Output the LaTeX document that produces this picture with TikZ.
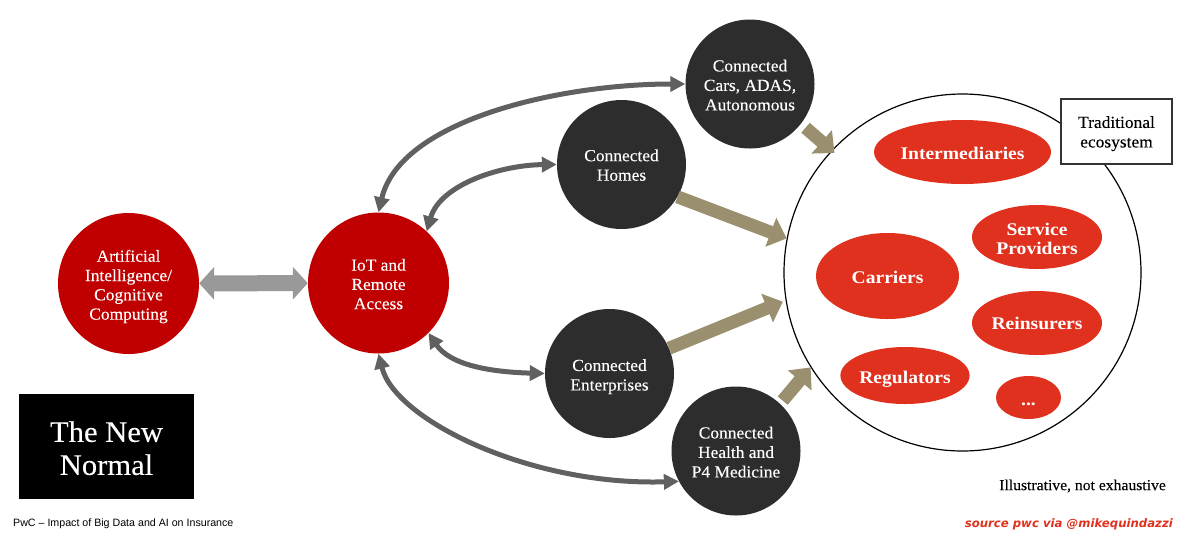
\documentclass[tikz,border=0pt]{standalone}
\usepackage{fontspec}
\setmainfont{Liberation Serif}[FakeStretch=1.03,FakeBold=0.12]
\newfontfamily\boldserif{Liberation Serif Bold}[FakeStretch=1.1]
\newfontfamily\footsans{Liberation Sans}
\newfontfamily\sourcesans{DejaVu Sans Bold Oblique}
\usetikzlibrary{arrows.meta,shapes.geometric}
\newcommand{\pad}[1]{\rule{0pt}{#1}}
\definecolor{pwcred}{HTML}{C00000}
\definecolor{darkdisc}{HTML}{2D2D2D}
\definecolor{ovalred}{HTML}{E0301E}
\definecolor{tanarrow}{HTML}{9A8F6E}
\definecolor{curvegray}{HTML}{606060}
\definecolor{widegray}{HTML}{999999}
\tikzset{
    bigdisc/.style={circle, fill=pwcred, text=white, minimum size=141pt, inner sep=0pt, align=center, font=\fontsize{16.9}{19.3}\selectfont},
    darkball/.style={circle, fill=darkdisc, text=white, minimum size=129pt, inner sep=0pt, align=center, font=\fontsize{16.9}{19.5}\selectfont},
    oval/.style={ellipse, fill=ovalred, text=white, inner sep=0pt, align=center, font=\boldserif\fontsize{17.8}{18.5}\selectfont},
    curvearrow/.style={<->, >={Triangle[length=15pt,width=15pt]}, line width=5pt, draw=curvegray},
    feedarrow/.style={->, >={Triangle[length=17pt,width=30pt]}, line width=13pt, draw=tanarrow},
    widearrow/.style={<->, >={Triangle[length=15pt,width=32pt]}, line width=16pt, draw=widegray},
}
\begin{document}
\begin{tikzpicture}[x=1pt, y=-1pt]
    \useasboundingbox (0, 0) rectangle (1200, 542);
    \node[circle, draw=black, line width=1.2pt, minimum size=357pt, inner sep=0pt] at(962.5, 272.5) (eco) {};
    \node[rectangle, draw=black!80, fill=white, line width=1.3pt, minimum width=111pt, minimum height=65pt, inner sep=0pt, align=center, font=\fontsize{16.9}{19.5}\selectfont] at(1116.5, 131.5) (trad) {\pad{16pt}Traditional\\ecosystem};

    \node[oval, minimum width=177pt, minimum height=64pt] at(962.5, 152) (inter) {\pad{16pt}Intermediaries};
    \node[oval, minimum width=130pt, minimum height=64pt] at(1037, 237) (service) {\pad{16pt}Service\\Providers};
    \node[oval, minimum width=143pt, minimum height=86pt] at(887.5, 276) (carriers) {\pad{16pt}Carriers};
    \node[oval, minimum width=130pt, minimum height=64pt] at(1037, 323) (reins) {\pad{14pt}Reinsurers};
    \node[oval, minimum width=128pt, minimum height=57pt] at(905, 375.5) (regul) {\pad{20pt}Regulators};
    \node[oval, minimum width=65pt, minimum height=43pt] at(1028.5, 397.5) (more) {\pad{16pt}...};

    \node[bigdisc] at(128.5, 283.5) (ai) {\pad{18pt}Artificial\\Intelligence/\\Cognitive\\Computing};
    \node[bigdisc] at(378.5, 283) (iot) {\pad{14pt}IoT and\\Remote\\Access};
    \node[darkball] at(750, 84) (cars) {\pad{14pt}Connected\\Cars, ADAS,\\Autonomous};
    \node[darkball] at(621.5, 164.5) (homes) {\pad{13pt}Connected\\Homes};
    \node[darkball] at(609.5, 373.5) (enter) {\pad{18pt}Connected\\Enterprises};
    \node[darkball] at(736, 451) (health) {\pad{14pt}Connected\\Health and\\P4 Medicine};

    \node[rectangle, fill=black, text=white, minimum width=175pt, minimum height=105pt, inner sep=0pt, align=center, font=\fontsize{29.7}{33}\selectfont] at(106.5, 446.5) (normal) {\pad{24pt}The New\\Normal};
    \node[anchor=west, inner sep=0pt, font=\footsans\fontsize{10.65}{13}\selectfont] at(13, 524) (foot) {PwC – Impact of Big Data and AI on Insurance};
    \node[anchor=east, inner sep=0pt, text=ovalred, font=\sourcesans\fontsize{11.7}{13}\selectfont] at(1173, 524) (source) {source pwc via @mikequindazzi};
    \node[anchor=east, inner sep=0pt, font=\fontsize{15.2}{17}\selectfont] at(1166, 486) (note) {Illustrative, not exhaustive};

    \draw[widearrow] (ai) -- (iot);
    \draw[curvearrow] (iot.north) .. controls (400, 120) and (560, 84) .. (cars.west);
    \draw[curvearrow] (iot.47) .. controls (440, 185) and (500, 165) .. (homes.west);
    \draw[curvearrow] (iot.-45) .. controls (450, 365) and (490, 372) .. (enter.west);
    \draw[curvearrow] (iot.south) .. controls (395, 420) and (530, 486) .. (health.208);

    \draw[feedarrow, shorten <=6pt, shorten >=-4pt] (cars.-38) -- (eco.137);
    \draw[feedarrow] (homes.-30) -- (eco.169);
    \draw[feedarrow, shorten >=3pt] (enter.23) -- (eco.189);
    \draw[feedarrow, shorten <=4pt] (health.47) -- (eco.212);
\end{tikzpicture}
\end{document}
